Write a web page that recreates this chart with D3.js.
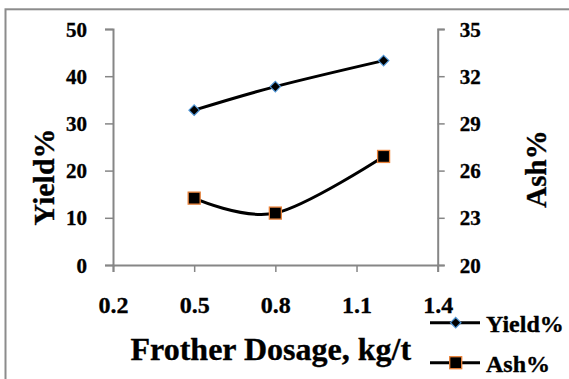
<!DOCTYPE html>
<html>
<head>
<meta charset="utf-8">
<script src="https://cdn.jsdelivr.net/npm/d3@7"></script>
<style>
  html, body { margin: 0; padding: 0; background: #fff; }
  svg { display: block; }
</style>
</head>
<body>
<svg id="chart" width="569" height="379"></svg>
<script>
// Frother dosage (kg/t) tested
const dosage = [0.5, 0.8, 1.2];
// Yield% (left axis)
const yieldPct = [32.8, 37.8, 43.3];
// Ash% (right axis)
const ashPct = [24.25, 23.3, 26.9];

const xTicks = [0.2, 0.5, 0.8, 1.1, 1.4];
const yLeftTicks = [0, 10, 20, 30, 40, 50];
const yRightTicks = [20, 23, 26, 29, 32, 35];

const FONT = "'Liberation Serif', 'Times New Roman', serif";
const svg = d3.select("#chart");
const axisGray = "#868686";

// bold serif text with a hairline outline for a heavier look
function serif(sel, size) {
  sel.style("font-family", FONT).style("font-weight", "bold")
     .style("font-size", size + "px").attr("fill", "#000")
     .attr("stroke", "#000").attr("stroke-width", 0.35);
}

// outer frame
svg.append("rect")
  .attr("x", 5.5).attr("y", 9.3)
  .attr("width", 600).attr("height", 400)
  .attr("fill", "none").attr("stroke", "#8c8c8c").attr("stroke-width", 2);

const x = d3.scaleLinear().domain([0.2, 1.4]).range([113, 437.7]);
const yL = d3.scaleLinear().domain([0, 50]).range([265, 29]);
const yR = d3.scaleLinear().domain([20, 35]).range([265, 29]);

function styleAxis(g) {
  g.attr("font-family", null).attr("font-size", null);
  g.select(".domain").attr("stroke", axisGray).attr("stroke-width", 2);
  g.selectAll(".tick line").attr("stroke", axisGray).attr("stroke-width", 1.5);
}

// left axis
const gL = svg.append("g").attr("transform", `translate(${x.range()[0]},0)`)
  .call(d3.axisLeft(yL).tickValues(yLeftTicks).tickSize(8).tickSizeOuter(8).tickPadding(18).tickFormat(d3.format("d")));
styleAxis(gL);
gL.selectAll(".tick text").call(serif, 21).attr("dy", "0.34em");

// right axis
const gR = svg.append("g").attr("transform", `translate(${x.range()[1]},0)`)
  .call(d3.axisRight(yR).tickValues(yRightTicks).tickSize(7).tickSizeOuter(7).tickPadding(15).tickFormat(d3.format("d")));
styleAxis(gR);
gR.selectAll(".tick text").call(serif, 21).attr("dy", "0.34em");

// bottom axis
const gB = svg.append("g").attr("transform", `translate(0,${yL(0)})`)
  .call(d3.axisBottom(x).tickValues(xTicks).tickSize(7).tickSizeOuter(7).tickPadding(24).tickFormat(d3.format(".1f")));
styleAxis(gB);
gB.selectAll(".tick text").call(serif, 24);

// series lines (smoothed)
const curve = d3.curveCatmullRom.alpha(0);
const yieldLine = d3.line().x((d, i) => x(dosage[i])).y(d => yL(d)).curve(curve);
const ashLine = d3.line().x((d, i) => x(dosage[i])).y(d => yR(d)).curve(curve);

svg.append("path").datum(yieldPct).attr("d", yieldLine)
  .attr("fill", "none").attr("stroke", "#000").attr("stroke-width", 3);
svg.append("path").datum(ashPct).attr("d", ashLine)
  .attr("fill", "none").attr("stroke", "#000").attr("stroke-width", 3);

const diamond = d3.symbol().type(d3.symbolDiamond2).size(70);
const diamondStroke = "#4f94d4";
const squareStroke = "#e9823a";

svg.selectAll(".ym").data(yieldPct).join("path")
  .attr("class", "ym")
  .attr("transform", (d, i) => `translate(${x(dosage[i])},${yL(d)})`)
  .attr("d", diamond)
  .attr("fill", "#000").attr("stroke", diamondStroke).attr("stroke-width", 1.2);

svg.selectAll(".am").data(ashPct).join("rect")
  .attr("class", "am")
  .attr("x", (d, i) => x(dosage[i]) - 6).attr("y", d => yR(d) - 6)
  .attr("width", 12).attr("height", 12)
  .attr("fill", "#000").attr("stroke", squareStroke).attr("stroke-width", 1.3);

// axis titles
svg.append("text")
  .attr("transform", "translate(54,177) rotate(-90)")
  .attr("text-anchor", "middle").call(serif, 30).text("Yield%");
svg.append("text")
  .attr("transform", "translate(546,169) rotate(-90)")
  .attr("text-anchor", "middle").call(serif, 29).text("Ash%");
svg.append("text")
  .attr("x", 270.8).attr("y", 360)
  .attr("text-anchor", "middle").call(serif, 32).text("Frother Dosage, kg/t");

// legend
const legend = [
  { name: "Yield%", y: 322.7, kind: "diamond" },
  { name: "Ash%", y: 362.7, kind: "square" }
];
legend.forEach(item => {
  const g = svg.append("g");
  g.append("line").attr("x1", 430).attr("x2", 480).attr("y1", item.y).attr("y2", item.y)
    .attr("stroke", "#000").attr("stroke-width", 3);
  if (item.kind === "diamond") {
    g.append("path").attr("transform", `translate(455.7,${item.y})`).attr("d", diamond)
      .attr("fill", "#000").attr("stroke", diamondStroke).attr("stroke-width", 1.2);
  } else {
    g.append("rect").attr("x", 455.7 - 6).attr("y", item.y - 6).attr("width", 12).attr("height", 12)
      .attr("fill", "#000").attr("stroke", squareStroke).attr("stroke-width", 1.3);
  }
  g.append("text").attr("x", 486).attr("y", item.y + 9).call(serif, 24).text(item.name);
});
</script>
</body>
</html>
